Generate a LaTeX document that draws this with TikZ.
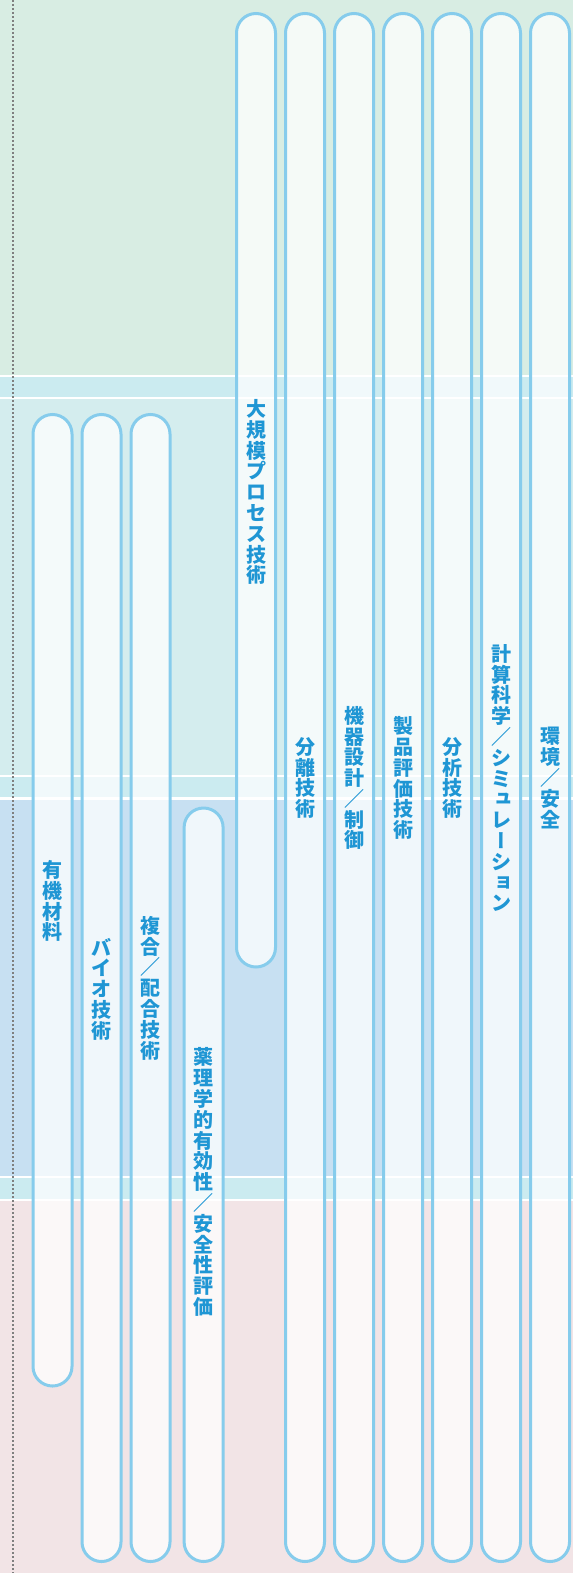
\documentclass[tikz,border=0pt]{standalone}
\usepackage{fontspec}
\newfontfamily\cjk{Noto Sans CJK JP}
\newfontfamily\cjkv[RawFeature=+vert]{Noto Sans CJK JP}
\newcommand\vc[1]{{\cjkv #1}}
\definecolor{bggreen}{HTML}{D8EDE3}
\definecolor{bgcyan}{HTML}{CBEBF0}
\definecolor{bgteal}{HTML}{D4EDEE}
\definecolor{bgblue}{HTML}{C7E0F2}
\definecolor{bgpink}{HTML}{F2E4E6}
\definecolor{pillline}{HTML}{86CCEC}
\definecolor{labelblue}{HTML}{1F96D4}
\definecolor{dotgray}{HTML}{7F7F7F}
\tikzset{
  pill/.style={draw=pillline, line width=3pt, fill=white, fill opacity=0.75,
    rounded corners=19.5pt, minimum width=39pt, inner sep=0pt},
  lbl/.style={text=labelblue, align=center, inner sep=0pt,
    font=\cjk\bfseries\fontsize{20}{20.8}\selectfont},
  band/.style={draw=none}
}
\begin{document}
\begin{tikzpicture}[x=1pt,y=-1pt]
\useasboundingbox (0,0) rectangle (573,1573);
\fill[white] (0,0) rectangle (573,1573);
% background bands
\fill[bggreen] (0,0) rectangle (573,375);
\fill[bgcyan] (0,377) rectangle (573,397);
\fill[bgteal] (0,399) rectangle (573,775);
\fill[bgcyan] (0,777) rectangle (573,797);
\fill[bgblue] (0,800) rectangle (573,1176);
\fill[bgcyan] (0,1178) rectangle (573,1199);
\fill[bgpink] (0,1201) rectangle (573,1573);
% dotted line
\coordinate (dtop) at (13,0);
\coordinate (dbot) at (13,1573);
\draw[dotgray, line width=1.5pt, dash pattern=on 2pt off 2pt] (dtop) -- (dbot);
% right pills
\node[pill, minimum height=953.5pt] (p1) at (256,490.25) {};
\node[pill, minimum height=1548pt] (p2) at (305,787.5) {};
\node[pill, minimum height=1548pt] (p3) at (354,787.5) {};
\node[pill, minimum height=1548pt] (p4) at (403,787.5) {};
\node[pill, minimum height=1548pt] (p5) at (452,787.5) {};
\node[pill, minimum height=1548pt] (p6) at (501,787.5) {};
\node[pill, minimum height=1548pt] (p7) at (550,787.5) {};
% left pills
\node[pill, minimum height=971.5pt] (p8) at (52.5,900.25) {};
\node[pill, minimum height=1147pt] (p9) at (101.5,988) {};
\node[pill, minimum height=1147pt] (p10) at (150.5,988) {};
\node[pill, minimum height=753.5pt] (p11) at (203.6,1184.75) {};
% labels
\node[lbl] (t1) at (256,492) {大\\規\\模\\プ\\ロ\\セ\\ス\\技\\術};
\node[lbl] (t2) at (305,778) {分\\離\\技\\術};
\node[lbl] (t3) at (354,778) {機\\器\\設\\計\\／\\制\\御};
\node[lbl] (t4) at (403,778) {製\\品\\評\\価\\技\\術};
\node[lbl] (t5) at (452,778) {分\\析\\技\\術};
\node[lbl] (t6) at (501,778) {計\\算\\科\\学\\／\\シ\\ミ\\\vc{ュ}\\レ\\\vc{ー}\\シ\\\vc{ョ}\\ン};
\node[lbl] (t7) at (550,778) {環\\境\\／\\安\\全};
\node[lbl] (t8) at (52.5,901) {有\\機\\材\\料};
\node[lbl] (t9) at (101.5,989) {バ\\イ\\オ\\技\\術};
\node[lbl] (t10) at (150.5,988) {複\\合\\／\\配\\合\\技\\術};
\node[lbl] (t11) at (203.6,1182) {薬\\理\\学\\的\\有\\効\\性\\／\\安\\全\\性\\評\\価};
\end{tikzpicture}
\end{document}
